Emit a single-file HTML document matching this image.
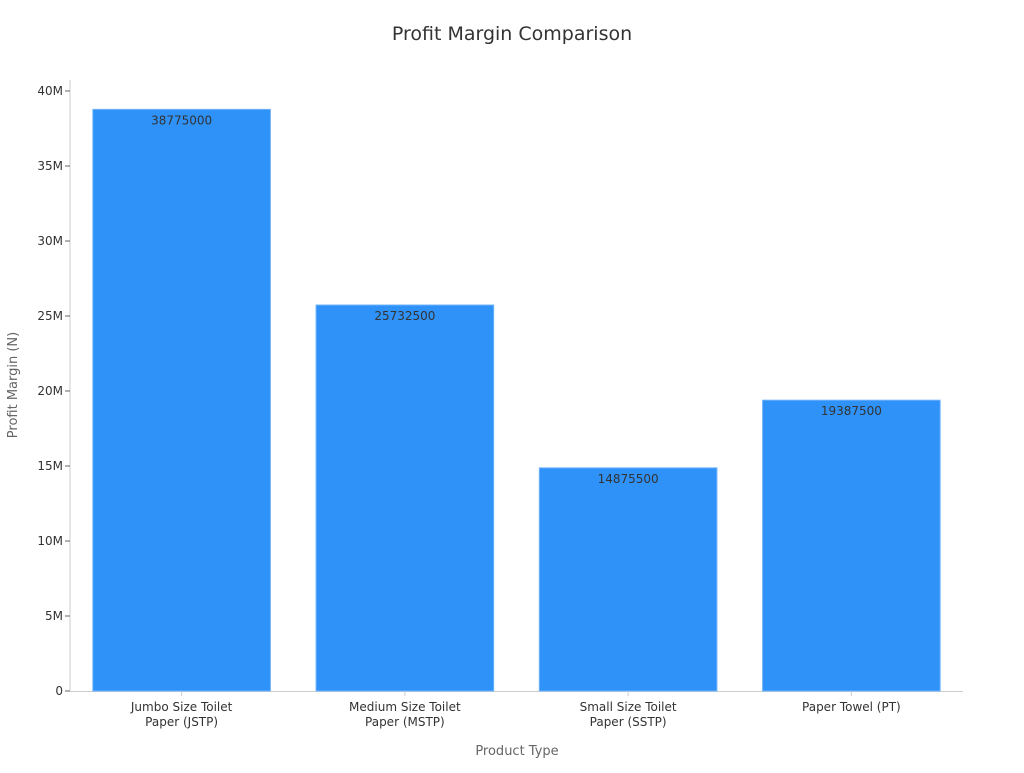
<!DOCTYPE html>
<html><head><meta charset="utf-8"><style>
body{margin:0;background:#fff;font-family:"Liberation Sans","DejaVu Sans",sans-serif}
</style></head><body>
<svg id="chart" width="1024" height="768" font-family="'DejaVu Sans','Liberation Sans',sans-serif">
<text x="512" y="40" text-anchor="middle" font-size="19" fill="#333">Profit Margin Comparison</text>
<text transform="translate(17,385) rotate(-90)" text-anchor="middle" font-size="13" fill="#666">Profit Margin (N)</text>
<text x="517" y="755" text-anchor="middle" font-size="13" fill="#666">Product Type</text>
<g id="plot"></g>
</svg>
<script>
const categories=[["Jumbo Size Toilet","Paper (JSTP)"],["Medium Size Toilet","Paper (MSTP)"],["Small Size Toilet","Paper (SSTP)"],["Paper Towel (PT)"]];
const values=[38775000,25732500,14875500,19387500];
const yTicks=[0,5e6,10e6,15e6,20e6,25e6,30e6,35e6,40e6];
const yTickLabels=["0","5M","10M","15M","20M","25M","30M","35M","40M"];
const L=70,R=963,T=80,B=691;
const y=v=>B-(v/40e6)*600;
const band=(R-L)/categories.length;
const x=i=>L+band*i;
const ns="http://www.w3.org/2000/svg";
const g=document.getElementById('plot');
function mk(t,a,txt){const e=document.createElementNS(ns,t);for(const k in a)e.setAttribute(k,a[k]);if(txt!==undefined)e.textContent=txt;g.appendChild(e);return e;}
let e=mk('line',{x1:L,x2:L,y1:T,y2:B,stroke:'#ccc'});


e=mk('line',{x1:L,x2:R,y1:B+0.5,y2:B+0.5,stroke:'#ccc'});


yTicks.forEach((v,i)=>{
 let t=mk('line',{x1:L-5,x2:L,y1:y(v),y2:y(v),stroke:'#666'});
 
 
 let l=mk('text',{x:L-7,y:y(v)+4,'text-anchor':'end','font-size':12,fill:'#333'},yTickLabels[i]);
 
 
});
values.forEach((v,i)=>{
 const bw=band*0.8,bx=x(i)+band*0.1+0.5;
 let r=mk('rect',{x:bx,y:y(v),width:bw-1,height:B-y(v),fill:'#2f92f8',stroke:'#6fb3fb','stroke-width':1});
 
 
 let t=mk('text',{x:x(i)+band/2,y:y(v)+15,'text-anchor':'middle','font-size':12,fill:'#333'},String(v));
 
 
 let tk=mk('line',{x1:x(i)+band/2,x2:x(i)+band/2,y1:B,y2:B+5,stroke:'#ccc'});
 
 
 categories[i].forEach((s,j)=>{
  let c=mk('text',{x:x(i)+band/2,y:B+20+j*15,'text-anchor':'middle','font-size':12,fill:'#333'},s);
  
  
 });
});
</script>
</body></html>
